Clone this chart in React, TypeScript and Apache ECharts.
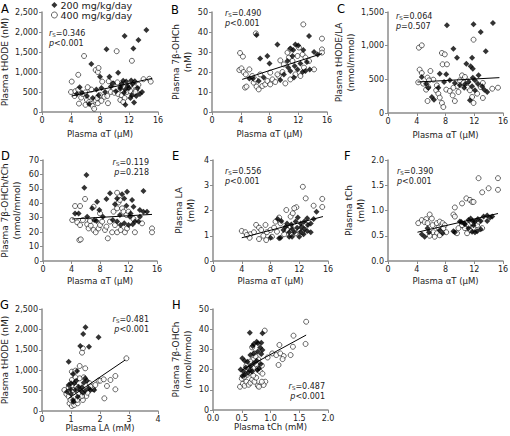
import React, { useEffect, useRef } from 'react';
import * as echarts from 'echarts';

const FONT = '"DejaVu Sans", Verdana, sans-serif';

// ---------- Data ----------
const seriesNames = ['200 mg/kg/day', '400 mg/kg/day'];

// Panel A: Plasma αT (μM) vs Plasma tHODE (nM)
const aFilled = [[14.4,2050],[11.4,1900],[13.3,1800],[8.9,1570],[12.6,1590],[6.8,1200],[8.0,880],[9.3,880],[10.5,980],[11.2,780],[11.6,760],[12.3,790],[12.8,770],[11.0,700],[11.8,650],[12.5,700],[13.2,600],[12.0,600],[10.8,620],[11.5,560],[7.5,560],[8.2,600],[5.2,620],[5.5,480],[6.2,400],[7.0,350],[7.8,420],[9.8,720],[10.2,520],[11.3,480],[12.4,420],[13.0,400],[13.8,500],[12.2,350],[11.5,180],[12.7,240],[6.5,200],[10.8,580],[8.7,500],[9.5,640],[4.8,450],[13.5,450]];
const aOpen = [[5.8,1400],[10.3,1520],[12.4,1280],[7.4,1050],[7.7,1000],[7.8,1100],[5.0,930],[4.1,760],[6.8,560],[8.3,760],[9.2,770],[9.8,700],[10.4,740],[11.0,690],[12.1,670],[12.8,650],[13.0,560],[14.0,820],[14.8,830],[15.0,760],[4.0,500],[4.6,520],[5.0,560],[5.4,360],[5.6,450],[6.0,490],[6.2,300],[6.5,250],[6.8,200],[7.0,150],[7.4,300],[7.7,220],[7.2,80],[8.0,420],[8.6,380],[9.1,220],[9.5,500],[10.0,480],[10.5,450],[11.0,420],[11.7,500],[12.2,520],[12.6,450],[13.3,680],[5.1,210],[4.5,400],[6.3,620],[7.6,350],[9.0,400],[10.8,300],[11.4,350],[8.2,280],[6.0,180],[12.9,500],[11.2,250]];
const aTrend = [[4.1,400],[15.2,840]];

// Panel B: Plasma αT (μM) vs Plasma 7β-OHCh (nM)
const bFilled = [[6.2,38.5],[9.1,33.8],[13.5,38],[11.6,33.8],[12,33.3],[10.9,31.7],[11.3,31],[12.7,31],[14.2,30],[14.7,28.8],[7.7,28],[8,24.3],[6.7,26.7],[10.5,25.5],[9.5,16],[10,18.8],[10.9,20.5],[11.4,17.2],[11.9,21.3],[12.6,20],[13,20.5],[13.6,21.3],[13.2,25],[12.3,24.3],[11.5,23],[5.7,16.8],[5.2,16.7],[6.5,15.5],[7.2,17.2],[10.6,22.2],[11.2,28]];
const bOpen = [[12.7,43.8],[6.1,39.3],[15.3,36.7],[3.9,29.5],[4.3,27.7],[3.8,21],[4.1,21.8],[4.4,20],[4.7,18.8],[4.6,12.2],[4.8,12.7],[5.2,21.3],[5.6,18],[5.8,14.7],[6.2,12.7],[6.5,11.3],[7,13],[7.4,13.8],[7.7,15.5],[8.1,13.8],[8.4,16.3],[8.8,15],[9.3,18],[9.8,20],[9.5,25.8],[10.2,14.3],[10.5,29.7],[10.9,31.3],[10.7,27.2],[11.2,25.5],[11.9,28],[12.1,32.2],[12.6,28.8],[13,27.2],[13.5,25.5],[14.2,21.3],[12.8,22.2],[12.3,18],[11.6,18.8],[15.3,31.3],[15.3,29.7],[10.9,16.3],[10,23.8],[9.1,18.8],[6.7,18.8],[6,16.3],[8.1,19.7]];
const bTrend = [[4.2,16.3],[15.3,29.2]];

// Panel C: Plasma αT (μM) vs Plasma tHODE/LA (nmol/mmol)
const cFilled = [[14.6,1337],[11.9,1317],[8.2,1302],[12.9,1203],[13.6,916],[9.1,955],[9.6,822],[11.7,822],[11.5,693],[11.8,658],[10.9,733],[7.2,584],[8.1,574],[4.7,535],[5.3,436],[5.6,376],[6.1,238],[6.4,198],[7,376],[7.8,460],[8.6,485],[9.3,446],[10,411],[10.6,376],[11.2,460],[11.8,525],[12.1,485],[12.5,436],[13.1,396],[13.4,347],[13.8,312],[11.4,188],[12.1,337],[10.7,426],[11.7,396],[12.6,559]];
const cOpen = [[11.9,1089],[4.3,970],[4.7,1005],[7.5,891],[7.9,871],[7.6,723],[8.2,723],[4.4,644],[4.7,594],[5.9,624],[5.5,525],[6.3,495],[4.2,455],[4.9,436],[5.3,347],[5.6,386],[6.8,411],[6.7,337],[7,287],[7.2,228],[7.5,149],[7.7,89],[5.5,178],[8.1,347],[8.6,327],[9,262],[9.3,178],[9.6,396],[10,485],[10.3,559],[10.7,535],[11.1,376],[11.4,337],[11.7,238],[12.4,287],[12.9,386],[13.2,446],[13.2,223],[14.5,361],[15.3,376],[11.9,149],[11.1,470],[10.5,446],[9.8,312],[9.1,376],[5.7,485]];
const cTrend = [[4.1,460],[15.5,525]];

// Panel D: Plasma αT (μM) vs Plasma 7β-OHCh/tCh (nmol/mmol)
const dFilled = [[6.1,59.6],[5.8,50.8],[11.8,48],[14.1,48.5],[9.4,46.9],[11.1,46.2],[7.6,41.1],[8.9,43],[10.4,43.4],[11.4,43.4],[12.5,42.3],[12.7,37.6],[11.7,38.3],[10.1,39.3],[6.9,36.5],[7.9,35.3],[4.5,33],[5,33],[13.6,35.3],[14.1,34.2],[14.6,34.2],[6.2,30.7],[7.2,28.4],[7.5,27.7],[8.4,30.7],[9.8,28.4],[10.4,27.3],[10.9,24.9],[11.4,26.1],[12.2,30.7],[12.3,33],[12.9,27.3],[13.4,27.3],[13.6,30.7],[12.6,25.4],[12,24.9],[10.8,31.9]];
const dOpen = [[10.4,47.3],[4.5,38.1],[5.2,38.1],[5.9,43],[4.1,28.4],[4.8,26.8],[5.2,24.9],[5.6,28.4],[6.2,25.4],[6.4,22.6],[6.7,24.5],[7.1,21.5],[7.4,19.9],[7.8,22.6],[8,24.9],[8.7,21.5],[9.1,15.7],[8.9,23.8],[7.1,37.6],[8,33],[9.9,34.2],[10.4,36.5],[10.6,40.6],[10.8,42.3],[11.1,36.5],[11.3,34.2],[11.7,31.9],[12,34.2],[10.1,24.9],[10.4,19.9],[10.9,21.5],[11.5,19.9],[11.8,22.6],[12.7,29.1],[12.9,19.9],[13.9,26.1],[15.3,22.6],[15.3,19.9],[5.1,14.5],[5.3,15],[9.7,19.9],[9.4,27.3],[8.3,27.3],[6.6,27.7]];
const dTrend = [[4.1,29.1],[15.3,32.3]];

// Panel E: Plasma αT (μM) vs Plasma LA (mM)
const eFilled = [[9,1.66],[9.5,1.58],[10.3,1.49],[10.9,1.45],[11.5,1.56],[11.8,1.72],[12.2,1.49],[12.7,1.56],[13.1,1.69],[14,1.66],[14.4,1.95],[13.6,1.49],[13.2,1.43],[12.7,1.27],[12.3,1.36],[11.7,1.32],[11,1.27],[10.6,1.14],[11.3,1.14],[12.2,1.16],[12.6,1.06],[13.1,1.19],[13.6,1.14],[10.6,0.96],[11,0.96],[12,0.96],[9.2,0.9],[9.4,0.92],[8,0.92],[9.8,1.23],[10.1,1.36]];
const eOpen = [[12.5,2.94],[12.9,2.48],[15.2,2.46],[15.2,2.14],[14,2.19],[11.6,2.13],[11.3,2.09],[10.2,2.02],[10.8,1.76],[11.1,1.89],[9.2,1.72],[8.7,1.56],[9.4,1.49],[4,1.19],[4.5,1.14],[5.2,1.06],[5.7,1.14],[6,1.43],[6.4,1.32],[6.7,1.23],[7.3,1.43],[7.5,1.14],[8,1.23],[7,1],[6.4,0.87],[7.4,0.83],[5.1,0.92],[8.2,0.96],[10.3,1.23],[10.8,1.36],[11.5,1.1],[12,1.19],[12.4,1.14],[9.9,1.06],[8.9,1.16],[8.5,1.32],[12.9,1.43],[4.7,1.03]];
const eTrend = [[4,0.92],[15.3,1.76]];

// Panel F: Plasma αT (μM) vs Plasma tCh (mM)
const fFilled = [[5.5,0.65],[5.7,0.57],[4.7,0.53],[5.1,0.48],[7.2,0.61],[7.6,0.55],[9.1,0.59],[9.3,0.57],[10,0.78],[10.6,0.75],[11.2,0.81],[11.5,0.84],[11.8,0.79],[12.1,0.78],[12.5,0.83],[12.9,0.79],[13.3,0.88],[13.8,0.9],[14.2,0.86],[14.5,0.88],[13.8,0.79],[11.7,0.58],[12.1,0.57],[12.4,0.59],[12.9,0.63],[11.9,0.71],[11.2,0.65],[10.7,0.73],[10.2,0.77]];
const fOpen = [[12.6,1.64],[15.3,1.64],[14,1.44],[13.1,1.36],[15.3,1.41],[10.9,1.24],[11.4,1.21],[11.7,1.17],[11.9,1.17],[10.3,1.14],[9.3,1.06],[9.1,0.92],[9.3,0.88],[5.8,0.92],[6.1,0.84],[5.3,0.83],[4.7,0.81],[5.1,0.77],[4.2,0.75],[5.5,0.75],[6.2,0.71],[6.8,0.75],[7.2,0.78],[7.6,0.75],[7.9,0.71],[7,0.66],[7.7,0.65],[6.3,0.57],[6.8,0.55],[7.2,0.51],[6.5,0.48],[5.8,0.5],[8.1,0.57],[9.6,0.55],[10.7,0.65],[11.2,0.71],[11.7,0.75],[11.9,0.66],[12.4,0.71],[12.6,0.78],[13.1,0.65],[11.4,0.61],[11,0.55],[10.3,0.71],[9.8,0.65]];
const fTrend = [[4.1,0.57],[15.3,0.94]];

// Panel G: Plasma LA (mM) vs Plasma tHODE (nM)
const gFilled = [[1.5,2050],[1.42,1887],[1.95,1805],[1.32,1593],[1.62,1577],[0.92,1209],[1.21,980],[1.07,907],[1.49,801],[1.55,743],[1.44,694],[1,678],[1.11,678],[1.26,596],[1.38,580],[1.61,556],[1.67,515],[1.32,515],[1.15,515],[0.98,531],[1.23,351],[1.07,270],[1.09,229],[1.41,449],[1.49,498],[1.18,743],[0.92,637],[0.86,474],[1,417],[1.8,515]];
const gOpen = [[1.41,1536],[1.38,1430],[1.3,1103],[1.49,1046],[1.03,964],[1.15,989],[2.91,1291],[2.36,760],[2.53,858],[1.95,743],[2.01,743],[2.13,776],[1.64,678],[1.76,539],[2.24,613],[2.53,531],[2.15,310],[0.84,417],[0.92,351],[0.95,188],[1.03,123],[1.11,147],[0.98,270],[1.32,335],[1.41,270],[1.53,368],[1.26,433],[1.18,596],[1.44,825],[1.3,801],[1.15,825],[1.03,760],[0.92,580],[0.77,515],[1.23,188],[1.57,449],[1.67,596],[1.07,515],[1.38,368],[1.84,637],[1.21,270]];
const gTrend = [[0.92,310],[2.87,1250]];

// Panel H: Plasma tCh (mM) vs Plasma 7β-OHCh (nmol/mmol)
const hFilled = [[0.64,38.3],[0.86,38],[0.76,33.8],[0.78,33],[0.84,33.3],[0.71,32.7],[0.82,31],[0.69,31.7],[0.86,29.7],[0.78,28.9],[0.71,28],[0.84,27.7],[0.65,27.2],[0.51,25.6],[0.55,24.4],[0.6,23.9],[0.71,23.1],[0.76,24.4],[0.83,22.8],[0.65,21.8],[0.57,21.1],[0.48,20.1],[0.53,19],[0.61,18.5],[0.68,19],[0.77,19.8],[0.51,16.8],[0.55,17.3],[0.64,19.8],[0.8,20.6]];
const hOpen = [[1.62,43.7],[1.4,36.8],[1.61,32.7],[1.155,32.2],[1.39,31.3],[1.03,28],[1.1,27.2],[1.17,28],[1.23,26.7],[1.21,25.2],[1.35,27.2],[1.14,22.3],[0.91,14],[0.88,12.4],[0.95,26],[0.9,39.3],[0.47,11.5],[0.52,13],[0.55,12],[0.58,14],[0.62,12.5],[0.65,13.5],[0.68,15],[0.72,14],[0.75,16],[0.78,12],[0.8,11.5],[0.85,14],[0.5,15.5],[0.55,16.5],[0.6,17.5],[0.63,18.5],[0.7,17],[0.66,20],[0.72,21],[0.75,22.5],[0.78,20.5],[0.82,19],[0.86,18],[0.85,22],[0.7,25],[0.65,24],[0.72,28],[0.68,31],[0.79,25],[0.74,26.5],[0.58,22],[0.62,20.5]];
const hTrend = [[0.505,19.8],[1.62,37.1]];

// Tick / axis labels
const xTitles = ['Plasma αT (μM)','Plasma αT (μM)','Plasma αT (μM)','Plasma αT (μM)','Plasma αT (μM)','Plasma αT (μM)','Plasma LA (mM)','Plasma tCh (mM)'];
const yTitles = ['Plasma tHODE (nM)','Plasma 7β-OHCh\n(nM)','Plasma tHODE/LA\n(nmol/mmol)','Plasma 7β-OHCh/tCh\n(nmol/mmol)','Plasma LA\n(mM)','Plasma tCh\n(mM)','Plasma tHODE (nM)','Plasma 7β-OHCh\n(nmol/mmol)'];
const panelLetters = ['A','B','C','D','E','F','G','H'];
const rsValues = ['0.346','0.490','0.064','0.119','0.556','0.390','0.481','0.487'];
const pValues = ['<0.001','<0.001','=0.507','=0.218','<0.001','<0.001','<0.001','<0.001'];
// [min, max, interval]
const xRanges = [[0,16,4],[0,16,4],[0,16,4],[0,16,4],[0,16,4],[0,16,4],[0,4,1],[0,2,0.5]];
const yRanges = [[0,2500,500],[0,50,10],[0,1500,500],[0,70,10],[0,4,1],[0,2,0.5],[0,2500,500],[0,50,10]];

const filledSets = [aFilled,bFilled,cFilled,dFilled,eFilled,fFilled,gFilled,hFilled];
const openSets = [aOpen,bOpen,cOpen,dOpen,eOpen,fOpen,gOpen,hOpen];
const trendSets = [aTrend,bTrend,cTrend,dTrend,eTrend,fTrend,gTrend,hTrend];

// ---------- Layout ----------
const grids = [
  { left: 42, top: 12, width: 116, height: 100 },
  { left: 212, top: 12, width: 115, height: 100 },
  { left: 388, top: 12, width: 115, height: 101 },
  { left: 43, top: 160, width: 114, height: 101 },
  { left: 213, top: 160, width: 115, height: 101 },
  { left: 388, top: 160, width: 115, height: 101 },
  { left: 42, top: 309, width: 116, height: 102 },
  { left: 213, top: 309, width: 115, height: 101 },
];
const xNameGaps = [17, 17, 17, 15, 15, 15, 11, 11];
const yNameGaps = [30, 14, 29, 20, 16, 20, 30, 19];
const letterPos = [[1,3],[171,4],[337,3],[1,150],[172,150],[344,150],[0,299],[172,299]];
// [x, y, align]
const annotPos: [number, number, string][] = [
  [49, 28, 'left'], [225, 8, 'left'], [396, 11, 'left'],
  [149, 157, 'right'], [225, 166, 'left'], [397, 166, 'left'],
  [149, 314, 'right'], [325, 381, 'right'],
];

const AXIS_COLOR = '#8c8c8c';
const TEXT_COLOR = '#222';

function fmtComma(v: number) {
  if (v >= 1000) return Math.floor(v / 1000) + ',' + String(v % 1000).padStart(3, '0');
  return String(v);
}

function buildOption() {
  const xAxis: any[] = [];
  const yAxis: any[] = [];
  const series: any[] = [];
  const graphic: any[] = [];
  grids.forEach((g, i) => {
    const [xmin, xmax, xint] = xRanges[i];
    const [ymin, ymax, yint] = yRanges[i];
    const common = {
      axisLine: { show: true, onZero: false, lineStyle: { color: AXIS_COLOR, width: 1.5 } },
      axisTick: { show: true, length: 3, lineStyle: { color: AXIS_COLOR, width: 1 } },
      splitLine: { show: false },
      nameLocation: 'middle',
    };
    xAxis.push({
      ...common,
      type: 'value', gridIndex: i, min: xmin, max: xmax, interval: xint,
      name: xTitles[i], nameGap: xNameGaps[i],
      nameTextStyle: { fontFamily: FONT, fontSize: 8.5, color: TEXT_COLOR },
      axisLabel: {
        fontFamily: FONT, fontSize: 8, color: TEXT_COLOR, margin: 4,
        formatter: (v: number) => (xint < 1 ? v.toFixed(1) : String(v)),
      },
    });
    yAxis.push({
      ...common,
      type: 'value', gridIndex: i, min: ymin, max: ymax, interval: yint,
      name: yTitles[i], nameGap: yNameGaps[i],
      nameTextStyle: { fontFamily: FONT, fontSize: 9, color: TEXT_COLOR, lineHeight: 12 },
      axisLabel: {
        fontFamily: FONT, fontSize: 8, color: TEXT_COLOR, margin: 4,
        formatter: (v: number) => (yint < 1 ? v.toFixed(1) : fmtComma(v)),
      },
    });
    series.push({
      type: 'scatter', name: seriesNames[1], xAxisIndex: i, yAxisIndex: i,
      data: openSets[i], symbol: 'circle', symbolSize: 5,
      itemStyle: { color: '#fff', borderColor: '#111', borderWidth: 0.8 },
      z: 2,
    });
    series.push({
      type: 'scatter', name: seriesNames[0], xAxisIndex: i, yAxisIndex: i,
      data: filledSets[i], symbol: 'diamond', symbolSize: 6,
      itemStyle: { color: '#000' },
      z: 3,
    });
    series.push({
      type: 'line', xAxisIndex: i, yAxisIndex: i, data: trendSets[i],
      symbol: 'none', lineStyle: { color: '#000', width: 1 }, z: 4,
      silent: true,
    });
    graphic.push({
      type: 'text', left: letterPos[i][0], top: letterPos[i][1],
      style: { text: panelLetters[i], fontFamily: FONT, fontSize: 11.5, fill: '#000' },
    });
    const [ax, ay, align] = annotPos[i];
    graphic.push({
      type: 'text', x: ax, y: ay,
      style: {
        text: `{i|r}{s|S}{n|=${rsValues[i]}}\n{i|p}{n|${pValues[i]}}`,
        align, verticalAlign: 'top',
        fontFamily: FONT, fontSize: 8, fill: TEXT_COLOR,
        rich: {
          i: { fontFamily: FONT, fontSize: 8, fontStyle: 'italic', lineHeight: 10, fill: TEXT_COLOR },
          n: { fontFamily: FONT, fontSize: 8, lineHeight: 10, fill: TEXT_COLOR },
          s: { fontFamily: FONT, fontSize: 5.5, lineHeight: 6, verticalAlign: 'bottom', fill: TEXT_COLOR },
        },
      },
    });
  });
  return {
    animation: false,
    backgroundColor: '#fff',
    grid: grids.map((g) => ({ ...g, containLabel: false, outerBoundsMode: 'none' })),
    xAxis, yAxis, series, graphic,
    legend: {
      data: [
        { name: seriesNames[0], icon: 'diamond', itemStyle: { color: '#000', borderWidth: 0 } },
        { name: seriesNames[1], icon: 'circle', itemStyle: { color: '#fff', borderColor: '#111', borderWidth: 0.8 } },
      ],
      orient: 'vertical', left: 51, top: 0, padding: 0,
      itemWidth: 6, itemHeight: 6, itemGap: 0,
      textStyle: { fontFamily: FONT, fontSize: 9.5, lineHeight: 10, color: TEXT_COLOR, padding: [0, 0, 0, -2] },
      selectedMode: false,
    },
  };
}

export default function App() {
  const ref = useRef<HTMLDivElement>(null);
  useEffect(() => {
    if (!ref.current) return;
    const chart = echarts.init(ref.current, undefined, { renderer: 'svg' });
    chart.setOption(buildOption() as any);
    return () => chart.dispose();
  }, []);
  return (
    <div
      ref={ref}
      style={{ position: 'fixed', left: 0, top: 0, width: 510, height: 436, background: '#fff' }}
    />
  );
}
